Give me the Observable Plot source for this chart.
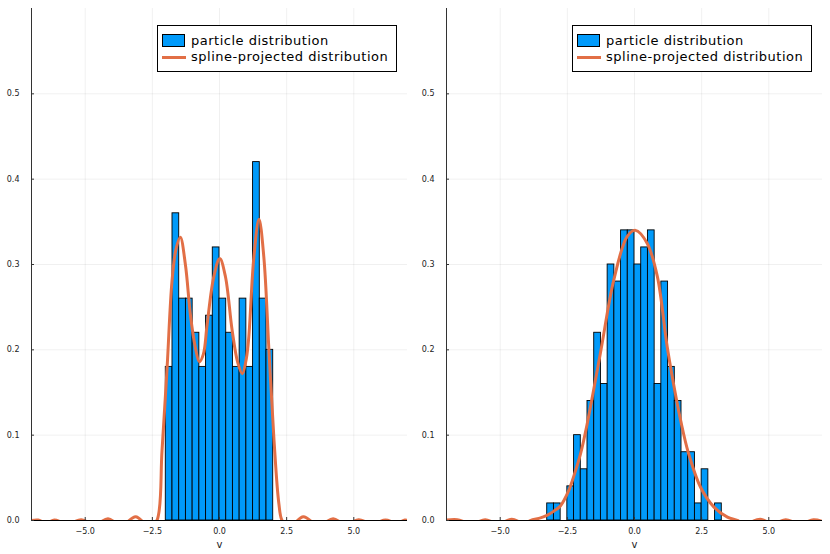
<!DOCTYPE html>
<html>
<head>
<meta charset="utf-8">
<script src="https://cdn.jsdelivr.net/npm/d3@7"></script>
<script src="https://cdn.jsdelivr.net/npm/@observablehq/plot@0.6"></script>
<style>
  html, body { margin: 0; padding: 0; background: #fff; }
  #wrap { position: relative; width: 830px; height: 554px; display: flex; font-family: "DejaVu Sans", sans-serif; }
  .legend { position: absolute; top: 25px; width: 240px; height: 47px; box-sizing: border-box; border: 1px solid #000; background: #fff; }
  .legend .patch { position: absolute; left: 4px; top: 8px; width: 23px; height: 13px; box-sizing: border-box; background: #009AFA; border: 1px solid #000; }
  .legend .ln { position: absolute; left: 4px; top: 30px; width: 24px; height: 3px; background: #E26F46; }
  .legend .t { position: absolute; left: 33px; font-size: 13px; letter-spacing: 0.5px; line-height: 12px; height: 12px; color: #000; white-space: nowrap; }
</style>
</head>
<body>
<div id="wrap"></div>
<script>
// Tick values
const xTicks = [-5, -2.5, 0, 2.5, 5];
const yTicks = [0, 0.1, 0.2, 0.3, 0.4, 0.5];

// Left panel histogram (bin lower / upper edges, density heights)
const leftBinLo = [-2, -1.75, -1.5, -1.25, -1, -0.75, -0.5, -0.25, 0, 0.25, 0.5, 0.75, 1, 1.25, 1.5, 1.75];
const leftBinHi = [-1.75, -1.5, -1.25, -1, -0.75, -0.5, -0.25, 0, 0.25, 0.5, 0.75, 1, 1.25, 1.5, 1.75, 2];
const leftHeights = [0.18, 0.36, 0.26, 0.26, 0.22, 0.18, 0.24, 0.32, 0.26, 0.22, 0.18, 0.26, 0.18, 0.42, 0.26, 0.20];

// Left panel spline-projected curve
const leftCurveX = [-7, -6.75, -6.45, -6.15, -5.65, -5.15, -4.65, -4.15, -3.65, -3.12, -2.6, -2.33, -2.14, -1.95, -1.77, -1.62, -1.46, -1.27, -1.08, -0.9, -0.75, -0.6, -0.46, -0.21, 0.01, 0.22, 0.47, 0.68, 0.85, 1.0, 1.09, 1.28, 1.47, 1.65, 1.84, 2.03, 2.21, 2.33, 2.6, 3.12, 3.68, 4.23, 4.7, 5.18, 5.68, 6.18, 6.6, 6.9, 7];
const leftCurveY = [0, 0.0005, -0.003, 0.0005, -0.004, 0.001, -0.005, 0.002, -0.006, 0.0045, -0.008, 0, 0.082, 0.18, 0.28, 0.318, 0.332, 0.30, 0.24, 0.203, 0.186, 0.195, 0.23, 0.286, 0.307, 0.286, 0.223, 0.185, 0.172, 0.19, 0.215, 0.309, 0.353, 0.309, 0.20, 0.094, 0.02, 0, -0.008, 0.0045, -0.006, 0.002, -0.005, 0.001, -0.004, 0.0005, -0.003, 0.0005, 0];

// Right panel histogram
const rightBinLo = [-3.25, -3, -2.75, -2.5, -2.25, -2, -1.75, -1.5, -1.25, -1, -0.75, -0.5, -0.25, 0, 0.25, 0.5, 0.75, 1, 1.25, 1.5, 1.75, 2, 2.25, 2.5, 2.75, 3];
const rightBinHi = [-3, -2.75, -2.5, -2.25, -2, -1.75, -1.5, -1.25, -1, -0.75, -0.5, -0.25, 0, 0.25, 0.5, 0.75, 1, 1.25, 1.5, 1.75, 2, 2.25, 2.5, 2.75, 3, 3.25];
const rightHeights = [0.02, 0.02, 0, 0.04, 0.10, 0.06, 0.14, 0.22, 0.16, 0.30, 0.28, 0.34, 0.34, 0.30, 0.32, 0.34, 0.16, 0.28, 0.18, 0.14, 0.08, 0.08, 0.02, 0.06, 0, 0.02];

// Right panel spline-projected curve
const rightCurveX = [-7, -6.6, -6.05, -5.56, -5.07, -4.57, -4.07, -3.88, -3.5, -3.26, -3.0, -2.76, -2.45, -2.26, -2.01, -1.77, -1.27, -0.77, -0.27, 0.04, 0.47, 0.85, 1.22, 1.59, 1.72, 2.0, 2.46, 2.96, 3.46, 3.83, 4.1, 4.68, 5.15, 5.63, 6.15, 6.66, 7];
const rightCurveY = [0.0005, 0.001, -0.004, 0.001, -0.004, 0.0015, -0.004, 0, 0.003, 0.006, 0.011, 0.017, 0.035, 0.052, 0.078, 0.112, 0.196, 0.282, 0.333, 0.340, 0.325, 0.286, 0.203, 0.137, 0.117, 0.08, 0.039, 0.0157, 0.004, 0, -0.004, 0.0015, -0.004, 0.001, -0.004, 0.0008, -0.001];

const fmt = d3.format(".1f");

function panel(binLo, binHi, heights, cx, cy) {
  const bars = binLo.map((x1, i) => ({x1, x2: binHi[i], h: heights[i]})).filter(d => d.h > 0);
  const curve = cx.map((x, i) => ({x, y: cy[i]}));
  return Plot.plot({
    width: 415,
    height: 554,
    marginLeft: 31,
    marginRight: 8,
    marginTop: 8,
    marginBottom: 34,
    x: {domain: [-7, 7]},
    y: {domain: [0, 0.6]},
    style: {fontFamily: "DejaVu Sans, sans-serif", fontSize: "8px", color: "#222", background: "#fff"},
    marks: [
      Plot.gridX(xTicks, {stroke: "#000", strokeOpacity: 0.1, strokeWidth: 0.6}),
      Plot.gridY(yTicks.slice(1), {stroke: "#000", strokeOpacity: 0.1, strokeWidth: 0.6}),
      Plot.rect(bars, {x1: "x1", x2: "x2", y1: 0, y2: "h", fill: "#009AFA", stroke: "#000", strokeWidth: 0.9}),
      Plot.line(curve, {x: "x", y: "y", stroke: "#E26F46", strokeWidth: 3, curve: "catmull-rom", clip: true}),
      Plot.ruleX([-7], {stroke: "#333", strokeWidth: 1}),
      Plot.ruleY([0], {stroke: "#000", strokeWidth: 1}),
      Plot.axisX(xTicks, {tickSize: 0, tickPadding: 8, tickFormat: fmt, label: null}),
      Plot.axisX(xTicks, {tickSize: -3, text: null, label: null, stroke: "#333"}),
      Plot.axisY(yTicks, {tickSize: 0, tickPadding: 12, tickFormat: fmt, label: null}),
      Plot.axisY(yTicks, {tickSize: -3, text: null, label: null, stroke: "#333"}),
      Plot.text(["v"], {frameAnchor: "bottom", dy: 27, fontSize: 10, fill: "#222"})
    ]
  });
}

const wrap = document.getElementById("wrap");
wrap.appendChild(panel(leftBinLo, leftBinHi, leftHeights, leftCurveX, leftCurveY));
wrap.appendChild(panel(rightBinLo, rightBinHi, rightHeights, rightCurveX, rightCurveY));

const legendLabels = ["particle distribution", "spline-projected distribution"];
[157, 572].forEach(left => {
  const lg = document.createElement("div");
  lg.className = "legend";
  lg.style.left = left + "px";
  lg.innerHTML = `<div class="patch"></div><div class="t" style="top:9px">${legendLabels[0]}</div>` +
                 `<div class="ln"></div><div class="t" style="top:24.5px">${legendLabels[1]}</div>`;
  wrap.appendChild(lg);
});
</script>
</body>
</html>
